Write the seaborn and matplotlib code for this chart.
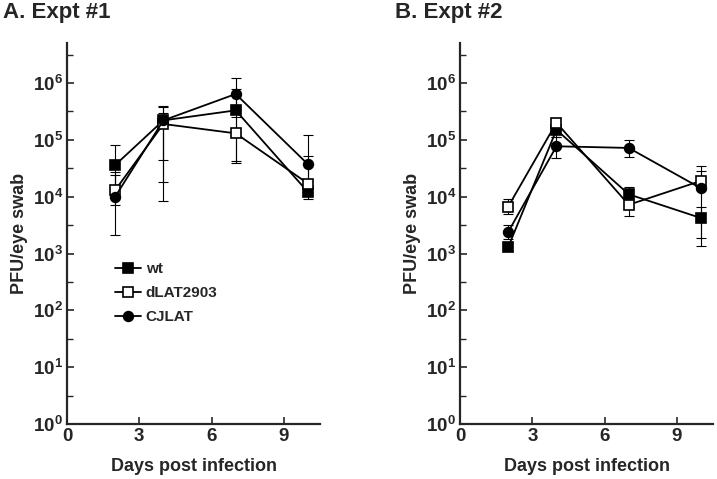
import numpy as np
import matplotlib
matplotlib.use("Agg")
import matplotlib.pyplot as plt
import seaborn as sns
from matplotlib.ticker import FixedLocator, FixedFormatter, NullFormatter

sns.set_style("ticks")
plt.rcParams["font.family"] = ["Liberation Sans", "DejaVu Sans"]
plt.rcParams["font.weight"] = "bold"
plt.rcParams["mathtext.fontset"] = "custom"
plt.rcParams["mathtext.rm"] = "Liberation Sans"
plt.rcParams["mathtext.bf"] = "Liberation Sans:bold"

# --- data (PFU/eye swab) ---
days = [2, 4, 7, 10]
series = ["wt", "dLAT2903", "CJLAT"]

# Expt #1
a_wt = [3.6e4, 2.2e5, 3.3e5, 1.2e4]
a_wt_lo = [1.6e4, 4.5e4, 4.3e4, 9.0e3]
a_wt_hi = [8.2e4, 4.0e5, 7.7e5, 1.6e4]
a_dlat = [1.3e4, 1.9e5, 1.3e5, 1.7e4]
a_dlat_lo = [7.0e3, 1.8e4, 3.9e4, 1.2e4]
a_dlat_hi = [2.4e4, 3.0e5, 2.5e5, 5.2e4]
a_cj = [1.0e4, 2.2e5, 6.4e5, 3.7e4]
a_cj_lo = [2.1e3, 8.3e3, 3.5e5, 1.5e4]
a_cj_hi = [2.7e4, 3.8e5, 1.2e6, 1.2e5]

# Expt #2
b_wt = [1.3e3, 1.5e5, 1.1e4, 4.2e3]
b_wt_lo = [1.1e3, 1.1e5, 8.0e3, 1.35e3]
b_wt_hi = [1.6e3, 1.9e5, 1.5e4, 6.7e3]
b_dlat = [6.7e3, 2.0e5, 7.2e3, 1.9e4]
b_dlat_lo = [4.9e3, 1.5e5, 4.5e3, 1.3e4]
b_dlat_hi = [9.1e3, 2.4e5, 1.0e4, 3.5e4]
b_cj = [2.4e3, 7.7e4, 7.2e4, 1.4e4]
b_cj_lo = [1.8e3, 4.8e4, 4.9e4, 1.9e3]
b_cj_hi = [3.2e3, 1.1e5, 9.8e4, 2.8e4]

panels = [
    ("A. Expt #1", [(a_wt, a_wt_lo, a_wt_hi), (a_dlat, a_dlat_lo, a_dlat_hi), (a_cj, a_cj_lo, a_cj_hi)]),
    ("B. Expt #2", [(b_wt, b_wt_lo, b_wt_hi), (b_dlat, b_dlat_lo, b_dlat_hi), (b_cj, b_cj_lo, b_cj_hi)]),
]
styles = {
    "wt": dict(marker="s", markerfacecolor="black"),
    "dLAT2903": dict(marker="s", markerfacecolor="white"),
    "CJLAT": dict(marker="o", markerfacecolor="black"),
}

fig = plt.figure(figsize=(7.17, 4.79), dpi=100)
ax_pos = [[0.0934, 0.1148, 0.353, 0.795], [0.6416, 0.1148, 0.353, 0.795]]
title_x = [0.004, 0.551]

for i, (title, data) in enumerate(panels):
    ax = fig.add_axes(ax_pos[i])
    for name, (vals, lo, hi) in zip(series, data):
        vals = np.array(vals)
        err = [vals - np.array(lo), np.array(hi) - vals]
        ax.errorbar(days, vals, yerr=err, fmt="none", ecolor="black",
                    elinewidth=0.8, capsize=3.5, capthick=0.8, zorder=2)
        sns.lineplot(x=days, y=vals, ax=ax, color="black", lw=1.3,
                     markersize=7, markeredgecolor="black", markeredgewidth=1.2,
                     label=name, zorder=3, **styles[name])

    ax.set_yscale("log")
    ax.set_ylim(1, 10 ** 6.7)
    ax.set_xlim(0, 10.5)
    ax.yaxis.set_major_locator(FixedLocator([10.0 ** k for k in range(7)]))
    ax.yaxis.set_major_formatter(FixedFormatter([r"$\mathbf{10^{%d}}$" % k for k in range(7)]))
    ax.yaxis.set_minor_locator(FixedLocator([10.0 ** (k + 0.5) for k in range(7)]))
    ax.yaxis.set_minor_formatter(NullFormatter())
    ax.set_xticks([0, 3, 6, 9])
    ax.tick_params(axis="both", which="major", direction="in", length=5, width=1.2,
                   labelsize=13.5, pad=3)
    ax.tick_params(axis="y", which="minor", direction="in", length=4, width=1.0)
    for lab in ax.get_xticklabels():
        lab.set_fontweight("bold")
    sns.despine(ax=ax)
    for s in ["left", "bottom"]:
        ax.spines[s].set_linewidth(1.6)
    ax.set_xlabel("Days post infection", fontsize=13, fontweight="bold", labelpad=9)
    ax.set_ylabel("PFU/eye swab", fontsize=13, fontweight="bold", labelpad=3)
    fig.text(title_x[i], 0.962, title, fontsize=16, fontweight="bold", ha="left", va="baseline")

    if i == 0:
        ax.legend(loc="upper left", bbox_to_anchor=(0.16, 0.445), frameon=False,
                  handlelength=1.7, handletextpad=0.3,
                  labelspacing=0.65, borderpad=0, prop={"weight": "bold", "size": 11})
    else:
        ax.get_legend().remove()

fig.savefig("out.png", dpi=100)
